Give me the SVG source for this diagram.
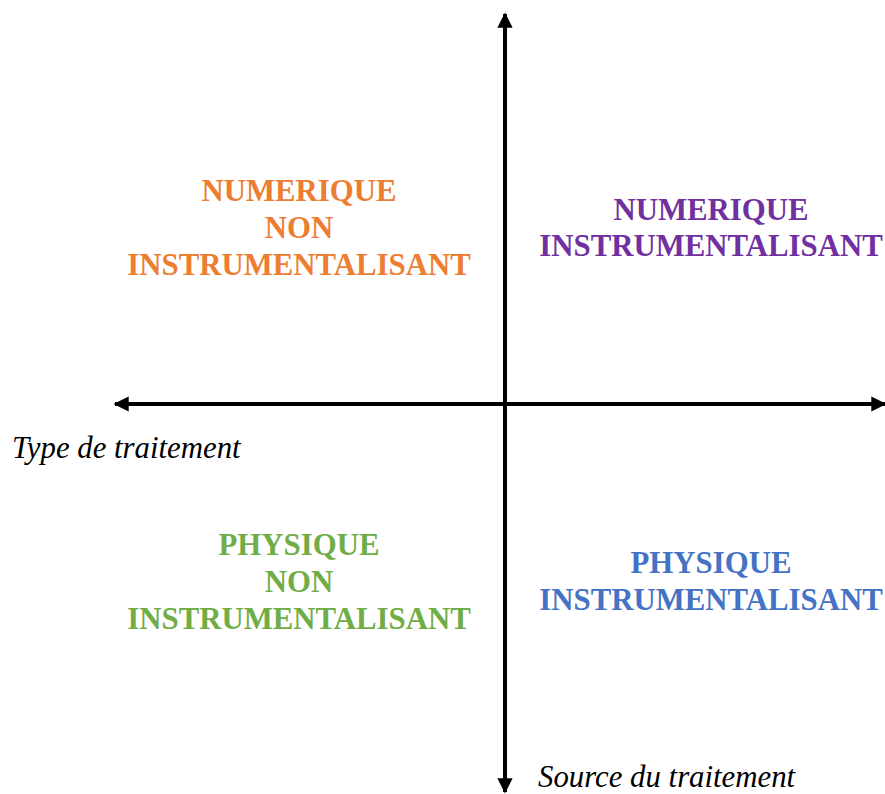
<svg xmlns="http://www.w3.org/2000/svg" width="885" height="794" viewBox="0 0 885 794">
<style>
.q{font-family:"Liberation Serif","Times New Roman",serif;font-weight:bold;font-size:30.8px;text-anchor:middle}
.ax{font-family:"Liberation Serif","Times New Roman",serif;font-style:italic;font-size:30.8px;fill:#000}
.axis{stroke:#000;stroke-width:4;fill:none}
</style>
<defs>
<marker id="ah" viewBox="0 0 10 10" refX="9" refY="5" markerWidth="4.2" markerHeight="3.8" orient="auto" markerUnits="strokeWidth">
<path d="M0,0 L10,5 L0,10 z" fill="#000"/>
</marker>
</defs>
<rect width="885" height="794" fill="#fff"/>
<g id="connectors">
<line class="axis" x1="505" y1="790" x2="505" y2="14" marker-end="url(#ah)"/>
<line class="axis" x1="505" y1="780" x2="505" y2="792" marker-end="url(#ah)"/>
<line class="axis" x1="505" y1="404" x2="115" y2="404" marker-end="url(#ah)"/>
<line class="axis" x1="505" y1="404" x2="885" y2="404" marker-end="url(#ah)"/>
</g>
<g id="numerique-non-instrumentalisant" class="q" fill="#ED7D31">
<text x="299" y="201">NUMERIQUE</text>
<text x="299" y="238">NON</text>
<text x="299" y="275">INSTRUMENTALISANT</text>
</g>
<g id="numerique-instrumentalisant" class="q" fill="#7030A0">
<text x="711" y="220">NUMERIQUE</text>
<text x="711" y="256">INSTRUMENTALISANT</text>
</g>
<g id="physique-non-instrumentalisant" class="q" fill="#70AD47">
<text x="299" y="555">PHYSIQUE</text>
<text x="299" y="592">NON</text>
<text x="299" y="629">INSTRUMENTALISANT</text>
</g>
<g id="physique-instrumentalisant" class="q" fill="#4472C4">
<text x="711" y="573">PHYSIQUE</text>
<text x="711" y="610">INSTRUMENTALISANT</text>
</g>
<g id="labels">
<text class="ax" x="12" y="458">Type de traitement</text>
<text class="ax" x="538" y="787">Source du traitement</text>
</g>
</svg>
